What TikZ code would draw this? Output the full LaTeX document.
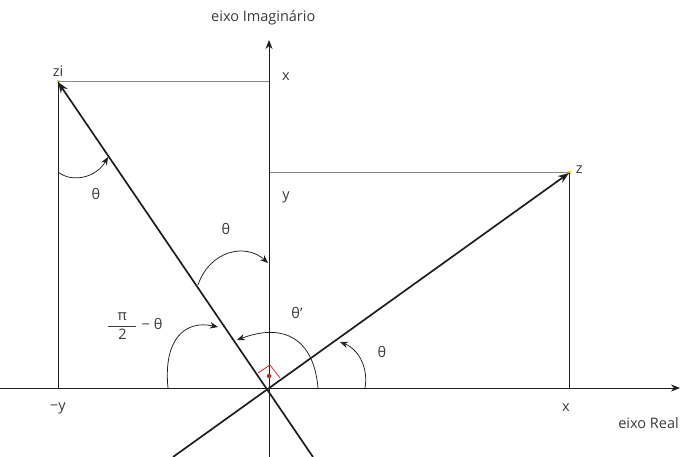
\documentclass[tikz,border=0pt]{standalone}
\usepackage{fontspec}
\setmainfont{Open Sans}
\usetikzlibrary{arrows.meta,calc,positioning}
\definecolor{cpInk}{HTML}{1E1E1E}
\definecolor{cpText}{HTML}{3A3A3A}
\definecolor{cpGuide}{HTML}{8A8A8A}
\definecolor{cpRed}{HTML}{E8141E}
\definecolor{cpYellow}{HTML}{F2E200}
\tikzset{
 plane/.style={font=\fontsize{14.5}{17}\selectfont,line cap=butt,line join=round,text=cpText},
 axis/.style={draw=cpInk,line width=.8pt,-{Stealth[length=9pt,width=7pt]}},
 guide/.style={draw=cpGuide,line width=1pt},
 drop/.style={draw=cpInk,line width=.8pt},
 vec/.style={draw=cpInk,line width=1.7pt,-{Stealth[length=11pt,width=8pt]}},
 sweep/.style={draw=cpInk,line width=.75pt,-{Stealth[length=8pt,width=6.5pt]}},
 tip/.style={rectangle,fill=cpYellow,inner sep=0pt,minimum size=3pt},
 lbl/.style={inner sep=1pt}
}
\begin{document}
\begin{tikzpicture}[plane,x=1pt,y=-1pt]
 \useasboundingbox (0,0) rectangle (680,457);
 \coordinate (O) at (269,388);
 \coordinate (imTop) at (269,40);
 \coordinate (imBot) at (269,457);
 \coordinate (reL) at (0,388);
 \coordinate (reR) at (680,388);
 \node[tip] (z) at (569,173) {};
 \node[tip] (zi) at (58,82) {};
 \coordinate (zBack) at (173,457);
 \coordinate (ziBack) at (313,457);
 \coordinate (zFoot) at (569,388);
 \coordinate (ziFoot) at (58,388);
 \coordinate (zLevel) at (269,173);
 \coordinate (ziLevel) at (269,82);
 % guides
 \draw[guide] (ziLevel) -- (zi.center);
 \draw[guide] (zLevel) -- (z.center);
 \draw[drop] (zi.center) -- (ziFoot);
 \draw[drop] (z.center) -- (zFoot);
 % axes
 \draw[axis] (imBot) -- (imTop);
 \draw[axis] (reL) -- (reR);
 % vectors
 \draw[vec] (zBack) -- (z.center);
 \draw[vec] (ziBack) -- (zi.center);
 % angle arcs
 \draw[sweep] (58,172) .. controls (72,183) and (96,178) .. (108,157);
 \draw[sweep] (198,285) .. controls (210,250) and (246,243) .. (268,263);
 \draw[sweep] (168,388) .. controls (163,338) and (186,320) .. (218,327);
 \draw[sweep] (318,388) .. controls (314,340) and (285,322) .. (237,340);
 \draw[sweep] (365,388) .. controls (369,365) and (356,348) .. (340,342);
 % right angle
 \draw[cpRed,line width=.7pt] (258,373) -- (270,365) -- (280,378);
 \fill[cpRed] (269,376) circle (2.2pt);
 % labels
 \node[lbl] (imLbl) at (268,18) [anchor=west,xshift=-58pt] {eixo Imaginário};
 \node[lbl] (reLbl) at (680,423) [anchor=east] {eixo Real};
 \node[lbl,above=3pt of zi] (ziLbl) {zi};
 \node[lbl,right=4pt of z,yshift=3pt] (zLbl) {z};
 \node[lbl] (xTop) at (286,77) {x};
 \node[lbl] (yMid) at (286,197) {y};
 \node[lbl] (yNeg) at (58,408) {−y};
 \node[lbl] (xRe) at (566,408) {x};
 \node[lbl] (thA) at (96,194) {θ};
 \node[lbl] (thB) at (226,229) {θ};
 \node[lbl] (thC) at (297,313) {θ'};
 \node[lbl] (thD) at (382,352) {θ};
 \node[lbl,anchor=west] (piHalf) at (106,326)
  {$\displaystyle\frac{\hbox to 28pt{\hfil π\hfil}}{\hbox{2}}$\hspace{4pt}−\hspace{4pt}θ};
\end{tikzpicture}
\end{document}
